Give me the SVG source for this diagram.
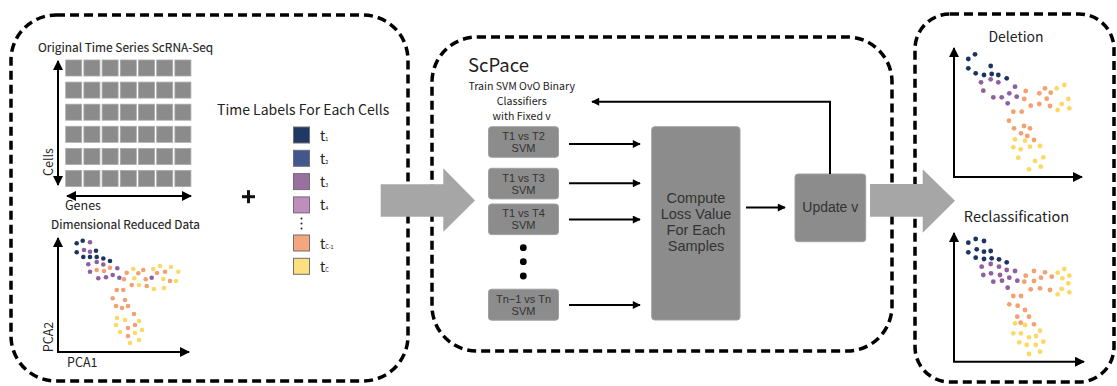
<svg xmlns="http://www.w3.org/2000/svg" width="1117" height="386" viewBox="0 0 1117 386">
  <defs>
    <style>
      .panel{fill:none;stroke:#000;stroke-width:3.5;stroke-dasharray:9 5}
      .lbl{font-family:"Noto Sans CJK SC","Source Sans Pro","Open Sans",sans-serif;fill:#222;font-weight:400}
      .semi{stroke:#222;stroke-width:0.12}
      .box{fill:#8c8c8c;stroke:#a0a0a0;stroke-width:1}
      .bt{font-family:"Liberation Sans",Arial,sans-serif;fill:#333;text-anchor:middle}
      .cell{fill:#8b8b8b;stroke:#a9a9a9;stroke-width:0.8}
      .ax{fill:none;stroke:#000;stroke-width:2}
      .fl{fill:none;stroke:#000;stroke-width:2}
      .big{fill:#a6a6a6}
      .n{fill:#1d3461}.p{fill:#8f5f9f}.o{fill:#f4a06f}.y{fill:#fcd867}
      .leg{stroke:#6f6f6f;stroke-width:1}
    </style>
    <marker id="ah" viewBox="0 0 10 10" refX="9" refY="5" markerWidth="5" markerHeight="5" orient="auto-start-reverse">
      <path d="M0,0 L10,5 L0,10 z" fill="#000"/>
    </marker>
    <marker id="fh" viewBox="0 0 10 10" refX="9" refY="5" markerWidth="4.5" markerHeight="4" orient="auto-start-reverse">
      <path d="M0,0 L10,5 L0,10 z" fill="#000"/>
    </marker>
  </defs>

  <rect width="1117" height="386" fill="#fff"/>

  <!-- dashed panels -->
  <rect class="panel" x="11" y="15" width="397" height="366" rx="45"/>
  <rect class="panel" x="432" y="37" width="460" height="314" rx="45"/>
  <rect class="panel" x="915" y="14" width="199" height="368" rx="35"/>

  <!-- input panel -->
  <g id="expression-matrix">
    <text class="lbl semi" x="38" y="52" font-size="11.9">Original Time Series ScRNA-Seq</text>
    <g>
      <rect class="cell" x="65.7" y="60" width="16" height="16"/><rect class="cell" x="83.9" y="60" width="16" height="16"/><rect class="cell" x="102.1" y="60" width="16" height="16"/><rect class="cell" x="120.3" y="60" width="16" height="16"/><rect class="cell" x="138.5" y="60" width="16" height="16"/><rect class="cell" x="156.7" y="60" width="16" height="16"/><rect class="cell" x="174.9" y="60" width="16" height="16"/>
      <rect class="cell" x="65.7" y="82.1" width="16" height="16"/><rect class="cell" x="83.9" y="82.1" width="16" height="16"/><rect class="cell" x="102.1" y="82.1" width="16" height="16"/><rect class="cell" x="120.3" y="82.1" width="16" height="16"/><rect class="cell" x="138.5" y="82.1" width="16" height="16"/><rect class="cell" x="156.7" y="82.1" width="16" height="16"/><rect class="cell" x="174.9" y="82.1" width="16" height="16"/>
      <rect class="cell" x="65.7" y="104.2" width="16" height="16"/><rect class="cell" x="83.9" y="104.2" width="16" height="16"/><rect class="cell" x="102.1" y="104.2" width="16" height="16"/><rect class="cell" x="120.3" y="104.2" width="16" height="16"/><rect class="cell" x="138.5" y="104.2" width="16" height="16"/><rect class="cell" x="156.7" y="104.2" width="16" height="16"/><rect class="cell" x="174.9" y="104.2" width="16" height="16"/>
      <rect class="cell" x="65.7" y="126.3" width="16" height="16"/><rect class="cell" x="83.9" y="126.3" width="16" height="16"/><rect class="cell" x="102.1" y="126.3" width="16" height="16"/><rect class="cell" x="120.3" y="126.3" width="16" height="16"/><rect class="cell" x="138.5" y="126.3" width="16" height="16"/><rect class="cell" x="156.7" y="126.3" width="16" height="16"/><rect class="cell" x="174.9" y="126.3" width="16" height="16"/>
      <rect class="cell" x="65.7" y="148.4" width="16" height="16"/><rect class="cell" x="83.9" y="148.4" width="16" height="16"/><rect class="cell" x="102.1" y="148.4" width="16" height="16"/><rect class="cell" x="120.3" y="148.4" width="16" height="16"/><rect class="cell" x="138.5" y="148.4" width="16" height="16"/><rect class="cell" x="156.7" y="148.4" width="16" height="16"/><rect class="cell" x="174.9" y="148.4" width="16" height="16"/>
      <rect class="cell" x="65.7" y="170.5" width="16" height="16"/><rect class="cell" x="83.9" y="170.5" width="16" height="16"/><rect class="cell" x="102.1" y="170.5" width="16" height="16"/><rect class="cell" x="120.3" y="170.5" width="16" height="16"/><rect class="cell" x="138.5" y="170.5" width="16" height="16"/><rect class="cell" x="156.7" y="170.5" width="16" height="16"/><rect class="cell" x="174.9" y="170.5" width="16" height="16"/>
    </g>
    <line class="ax" x1="58" y1="61" x2="58" y2="185" marker-start="url(#ah)" marker-end="url(#ah)"/>
    <line class="ax" x1="67" y1="196" x2="191" y2="196" marker-start="url(#ah)" marker-end="url(#ah)"/>
    <text class="lbl" font-size="12.5" transform="translate(53,162) rotate(-90)" text-anchor="middle">Cells</text>
    <text class="lbl" x="65" y="210" font-size="12.5">Genes</text>
  </g>

  <g id="reduced-data">
    <text class="lbl semi" x="51" y="229" font-size="11.9">Dimensional Reduced Data</text>
    <path class="ax" d="M58,238 V352 H189" marker-start="url(#ah)" marker-end="url(#ah)"/>
    <text class="lbl" font-size="12.5" transform="translate(53,337) rotate(-90)" text-anchor="middle">PCA2</text>
    <text class="lbl" x="67" y="367" font-size="12.5">PCA1</text>
    <g>
      <circle class="n" cx="76.7" cy="243.3" r="2.3"/><circle class="n" cx="82.7" cy="240.7" r="2.3"/><circle class="n" cx="76.7" cy="252.3" r="2.3"/><circle class="n" cx="96" cy="250.7" r="2.3"/><circle class="n" cx="83.3" cy="257" r="2.3"/><circle class="n" cx="90" cy="257" r="2.3"/><circle class="n" cx="96.7" cy="257" r="2.3"/><circle class="n" cx="103.3" cy="258.5" r="2.3"/><circle class="n" cx="110" cy="261" r="2.3"/>
      <circle class="p" cx="90" cy="242.3" r="2.3"/><circle class="p" cx="84" cy="250" r="2.3"/><circle class="p" cx="90" cy="251.7" r="2.3"/><circle class="p" cx="88.3" cy="264.3" r="2.3"/><circle class="p" cx="96.7" cy="262" r="2.3"/><circle class="p" cx="103.3" cy="264.5" r="2.3"/><circle class="p" cx="90" cy="271.7" r="2.3"/><circle class="p" cx="98.3" cy="278.3" r="2.3"/><circle class="p" cx="106" cy="277.3" r="2.3"/><circle class="p" cx="112.7" cy="275" r="2.3"/><circle class="p" cx="117.3" cy="268.3" r="2.3"/><circle class="p" cx="119.3" cy="277.7" r="2.3"/><circle class="p" cx="151.7" cy="277.7" r="2.3"/>
      <circle class="o" cx="96.7" cy="270" r="2.3"/><circle class="o" cx="104" cy="271" r="2.3"/><circle class="o" cx="110" cy="267.7" r="2.3"/><circle class="o" cx="126.7" cy="272.7" r="2.3"/><circle class="o" cx="124" cy="279.3" r="2.3"/><circle class="o" cx="131.7" cy="285" r="2.3"/><circle class="o" cx="138.3" cy="273.3" r="2.3"/><circle class="o" cx="143.3" cy="270" r="2.3"/><circle class="o" cx="145.7" cy="279.3" r="2.3"/><circle class="o" cx="146.7" cy="286" r="2.3"/><circle class="o" cx="165" cy="271.7" r="2.3"/><circle class="o" cx="170" cy="281" r="2.3"/><circle class="o" cx="157" cy="273" r="2.3"/>
      <circle class="o" cx="116.7" cy="290" r="2.3"/><circle class="o" cx="123.3" cy="290" r="2.3"/><circle class="o" cx="112.7" cy="298.3" r="2.3"/><circle class="o" cx="125" cy="300" r="2.3"/><circle class="o" cx="116" cy="306" r="2.3"/><circle class="o" cx="122" cy="308" r="2.3"/><circle class="o" cx="128" cy="306" r="2.3"/><circle class="o" cx="134" cy="314" r="2.3"/><circle class="o" cx="128" cy="328" r="2.3"/><circle class="o" cx="135" cy="325" r="2.3"/><circle class="o" cx="128" cy="336" r="2.3"/>
      <circle class="y" cx="133.3" cy="269" r="2.3"/><circle class="y" cx="153.3" cy="269" r="2.3"/><circle class="y" cx="160" cy="266" r="2.3"/><circle class="y" cx="171" cy="267" r="2.3"/><circle class="y" cx="178.3" cy="271.7" r="2.3"/><circle class="y" cx="163.3" cy="279" r="2.3"/><circle class="y" cx="154" cy="289" r="2.3"/><circle class="y" cx="164" cy="288" r="2.3"/><circle class="y" cx="176" cy="281" r="2.3"/><circle class="y" cx="134.3" cy="278.3" r="2.3"/><circle class="y" cx="139" cy="285" r="2.3"/>
      <circle class="y" cx="117" cy="318" r="2.3"/><circle class="y" cx="116" cy="325" r="2.3"/><circle class="y" cx="125" cy="320" r="2.3"/><circle class="y" cx="139" cy="321" r="2.3"/><circle class="y" cx="120" cy="332" r="2.3"/><circle class="y" cx="135" cy="333" r="2.3"/><circle class="y" cx="142" cy="330" r="2.3"/><circle class="y" cx="130" cy="343" r="2.3"/><circle class="y" cx="139" cy="340" r="2.3"/>
    </g>
  </g>

  <g id="plus">
    <rect x="242" y="195.2" width="13" height="3" fill="#111"/>
    <rect x="247" y="190.2" width="3" height="13" fill="#111"/>
  </g>

  <g id="time-labels">
    <text class="lbl" x="217" y="115" font-size="14">Time Labels For Each Cells</text>
    <rect class="leg" x="293.5" y="127" width="16" height="16" fill="#1f3864"/>
    <rect class="leg" x="293.5" y="150.3" width="16" height="16" fill="#41578e"/>
    <rect class="leg" x="293.5" y="173.6" width="16" height="16" fill="#9a70a1"/>
    <rect class="leg" x="293.5" y="196.9" width="16" height="16" fill="#c08ebd"/>
    <circle cx="301.5" cy="218.5" r="1" fill="#222"/><circle cx="301.5" cy="223.5" r="1" fill="#222"/><circle cx="301.5" cy="228.5" r="1" fill="#222"/>
    <rect class="leg" x="293.5" y="235" width="16" height="16" fill="#f4a77d"/>
    <rect class="leg" x="293.5" y="258.3" width="16" height="16" fill="#fcdf80"/>
    <text class="lbl" x="320" y="140.5" font-size="14">t<tspan font-size="5.5">1</tspan></text>
    <text class="lbl" x="320" y="163.8" font-size="14">t<tspan font-size="5.5">2</tspan></text>
    <text class="lbl" x="320" y="187.1" font-size="14">t<tspan font-size="5.5">3</tspan></text>
    <text class="lbl" x="320" y="210.4" font-size="14">t<tspan font-size="5.5">4</tspan></text>
    <text class="lbl" x="320" y="248.5" font-size="14">t<tspan font-size="5.5">C-1</tspan></text>
    <text class="lbl" x="320" y="271.8" font-size="14">t<tspan font-size="5.5">C</tspan></text>
  </g>

  <!-- ScPace panel -->
  <g id="scpace-title">
    <text class="lbl" x="468" y="71.5" font-size="18.5">ScPace</text>
    <text class="lbl" x="521.7" y="90" font-size="10.6" text-anchor="middle">Train SVM OvO Binary</text>
    <text class="lbl" x="521.7" y="105" font-size="10.6" text-anchor="middle">Classifiers</text>
    <text class="lbl" x="521.7" y="120" font-size="10.6" text-anchor="middle">with Fixed v</text>
  </g>

  <g id="svm-1-2">
    <rect class="box" x="488.5" y="126.7" width="70" height="30.6" rx="3"/>
    <text class="bt" x="523.5" y="140" font-size="11">T1 vs T2</text>
    <text class="bt" x="523.5" y="152" font-size="11">SVM</text>
  </g>
  <g id="svm-1-3">
    <rect class="box" x="488.5" y="168.3" width="70" height="30.6" rx="3"/>
    <text class="bt" x="523.5" y="181.6" font-size="11">T1 vs T3</text>
    <text class="bt" x="523.5" y="193.6" font-size="11">SVM</text>
  </g>
  <g id="svm-1-4">
    <rect class="box" x="488.5" y="204" width="70" height="30.6" rx="3"/>
    <text class="bt" x="523.5" y="217.3" font-size="11">T1 vs T4</text>
    <text class="bt" x="523.5" y="229.3" font-size="11">SVM</text>
  </g>
  <g id="svm-ellipsis">
    <circle cx="523.3" cy="247.7" r="3.4" fill="#000"/>
    <circle cx="523.3" cy="261.7" r="3.4" fill="#000"/>
    <circle cx="523.3" cy="276" r="3.4" fill="#000"/>
  </g>
  <g id="svm-last">
    <rect class="box" x="488.5" y="289.2" width="70" height="31" rx="3"/>
    <text class="bt" x="523.5" y="302.6" font-size="11">Tn−1 vs Tn</text>
    <text class="bt" x="523.5" y="314.6" font-size="11">SVM</text>
  </g>

  <g id="compute-loss">
    <rect class="box" x="651.7" y="126.7" width="88.3" height="193.3" rx="3"/>
    <text class="bt" x="696" y="203.3" font-size="14.5">Compute</text>
    <text class="bt" x="696" y="219.1" font-size="14.5">Loss Value</text>
    <text class="bt" x="696" y="234.9" font-size="14.5">For Each</text>
    <text class="bt" x="696" y="250.7" font-size="14.5">Samples</text>
  </g>

  <g id="update-v">
    <rect class="box" x="795" y="174" width="70.7" height="67.7" rx="3"/>
    <text class="bt" x="830.3" y="212" font-size="14">Update v</text>
  </g>

  <g id="connectors">
    <line class="fl" x1="569" y1="144" x2="640" y2="144" marker-end="url(#fh)"/>
    <line class="fl" x1="569" y1="183.3" x2="640" y2="183.3" marker-end="url(#fh)"/>
    <line class="fl" x1="569" y1="219.5" x2="640" y2="219.5" marker-end="url(#fh)"/>
    <line class="fl" x1="569" y1="305" x2="640" y2="305" marker-end="url(#fh)"/>
    <line class="fl" x1="746" y1="207.5" x2="785" y2="207.5" marker-end="url(#fh)"/>
    <path class="fl" d="M830,174 V101.7 H592" marker-end="url(#fh)"/>
  </g>

  <!-- flow between panels -->
  <g id="flow-arrow-1">
    <path class="big" d="M380.7,184.3 H443.3 V168.3 L475,200.5 L443.3,231.7 V216.7 H380.7 z"/>
  </g>
  <g id="flow-arrow-2">
    <path class="big" d="M870,184 H922.7 V169.3 L955,200.7 L922.7,232.7 V216.7 H870 z"/>
  </g>

  <!-- results panel -->
  <g id="deletion">
    <text class="lbl" x="1016" y="41.7" font-size="14" font-weight="700" text-anchor="middle">Deletion</text>
    <path class="ax" d="M954,48 V177 H1082" marker-start="url(#ah)" marker-end="url(#ah)"/>
    <g>
      <circle class="n" cx="968.3" cy="59" r="2.4"/><circle class="n" cx="975" cy="54.3" r="2.4"/><circle class="n" cx="968.3" cy="68.3" r="2.4"/><circle class="n" cx="975.7" cy="73.3" r="2.4"/><circle class="n" cx="984" cy="75" r="2.4"/><circle class="n" cx="990.7" cy="66" r="2.4"/><circle class="n" cx="991.7" cy="74" r="2.4"/><circle class="n" cx="998.3" cy="75" r="2.4"/><circle class="n" cx="1006.7" cy="78.3" r="2.4"/>
      <circle class="p" cx="981" cy="82.3" r="2.4"/><circle class="p" cx="990.7" cy="79.3" r="2.4"/><circle class="p" cx="998.3" cy="82.3" r="2.4"/><circle class="p" cx="983.3" cy="90.7" r="2.4"/><circle class="p" cx="993.3" cy="97.3" r="2.4"/><circle class="p" cx="1001.7" cy="97.3" r="2.4"/><circle class="p" cx="1009.3" cy="93.3" r="2.4"/><circle class="p" cx="1015" cy="86.7" r="2.4"/><circle class="p" cx="1016.7" cy="96.7" r="2.4"/><circle class="p" cx="1007.7" cy="103.3" r="2.4"/>
      <circle class="o" cx="1025.7" cy="91" r="2.4"/><circle class="o" cx="1024.3" cy="99" r="2.4"/><circle class="o" cx="1030.7" cy="105.7" r="2.4"/><circle class="o" cx="1039.3" cy="104" r="2.4"/><circle class="o" cx="1045" cy="88.3" r="2.4"/><circle class="o" cx="1039.3" cy="93.3" r="2.4"/><circle class="o" cx="1046.7" cy="98.7" r="2.4"/><circle class="o" cx="1050.7" cy="92.7" r="2.4"/><circle class="o" cx="1050" cy="106" r="2.4"/><circle class="o" cx="1013.3" cy="111.7" r="2.4"/><circle class="o" cx="1021.7" cy="111.7" r="2.4"/><circle class="o" cx="1009" cy="120.7" r="2.4"/><circle class="o" cx="1014" cy="128.3" r="2.4"/><circle class="o" cx="1024" cy="126" r="2.4"/><circle class="o" cx="1030" cy="128.3" r="2.4"/><circle class="o" cx="1021" cy="133.3" r="2.4"/><circle class="o" cx="1027.3" cy="136" r="2.4"/><circle class="o" cx="1034" cy="140" r="2.4"/>
      <circle class="y" cx="1056.7" cy="88.3" r="2.4"/><circle class="y" cx="1064.3" cy="85" r="2.4"/><circle class="y" cx="1068.3" cy="99" r="2.4"/><circle class="y" cx="1061.7" cy="104" r="2.4"/><circle class="y" cx="1069.3" cy="108.3" r="2.4"/><circle class="y" cx="1057.7" cy="110" r="2.4"/><circle class="y" cx="1015" cy="139.3" r="2.4"/><circle class="y" cx="1025" cy="140.7" r="2.4"/><circle class="y" cx="1013.3" cy="147.3" r="2.4"/><circle class="y" cx="1020.7" cy="149.3" r="2.4"/><circle class="y" cx="1030" cy="146.7" r="2.4"/><circle class="y" cx="1040" cy="146" r="2.4"/><circle class="y" cx="1018.3" cy="157.7" r="2.4"/><circle class="y" cx="1035" cy="161" r="2.4"/><circle class="y" cx="1043.3" cy="157.3" r="2.4"/><circle class="y" cx="1029" cy="169.3" r="2.4"/><circle class="y" cx="1040.7" cy="166.7" r="2.4"/>
    </g>
  </g>

  <g id="reclassification">
    <text class="lbl" x="1016.5" y="221.7" font-size="14.5" font-weight="700" text-anchor="middle">Reclassification</text>
    <path class="ax" d="M954,233 V361.7 H1084" marker-start="url(#ah)" marker-end="url(#ah)"/>
    <g>
      <circle class="n" cx="968.3" cy="242.7" r="2.4"/><circle class="n" cx="975.7" cy="239" r="2.4"/><circle class="n" cx="984" cy="241" r="2.4"/><circle class="n" cx="968.3" cy="252.3" r="2.4"/><circle class="n" cx="976.7" cy="249.3" r="2.4"/><circle class="n" cx="984" cy="251.7" r="2.4"/><circle class="n" cx="990.7" cy="251" r="2.4"/><circle class="n" cx="975.7" cy="257.7" r="2.4"/><circle class="n" cx="984" cy="259" r="2.4"/><circle class="n" cx="991.7" cy="258.3" r="2.4"/><circle class="n" cx="999" cy="259.3" r="2.4"/><circle class="n" cx="1006.7" cy="262.3" r="2.4"/>
      <circle class="p" cx="981.7" cy="266.7" r="2.4"/><circle class="p" cx="990.7" cy="264" r="2.4"/><circle class="p" cx="999" cy="266.7" r="2.4"/><circle class="p" cx="1006.7" cy="270" r="2.4"/><circle class="p" cx="1015" cy="271" r="2.4"/><circle class="p" cx="983.3" cy="275" r="2.4"/><circle class="p" cx="991" cy="273.3" r="2.4"/><circle class="p" cx="1000" cy="275" r="2.4"/><circle class="p" cx="1009.3" cy="277.7" r="2.4"/><circle class="p" cx="1017.3" cy="280.7" r="2.4"/><circle class="p" cx="993.3" cy="281.7" r="2.4"/><circle class="p" cx="1002" cy="280.7" r="2.4"/><circle class="p" cx="1007.7" cy="287.7" r="2.4"/>
      <circle class="o" cx="1025.7" cy="275.7" r="2.4"/><circle class="o" cx="1034" cy="271" r="2.4"/><circle class="o" cx="1045" cy="272.3" r="2.4"/><circle class="o" cx="1024.3" cy="281.7" r="2.4"/><circle class="o" cx="1034" cy="281" r="2.4"/><circle class="o" cx="1041" cy="277.7" r="2.4"/><circle class="o" cx="1051.7" cy="276.7" r="2.4"/><circle class="o" cx="1030.7" cy="289.3" r="2.4"/><circle class="o" cx="1040" cy="288.3" r="2.4"/><circle class="o" cx="1050" cy="290" r="2.4"/><circle class="o" cx="1013.3" cy="296" r="2.4"/><circle class="o" cx="1021" cy="296" r="2.4"/><circle class="o" cx="1009.3" cy="304.3" r="2.4"/><circle class="o" cx="1017.7" cy="305.7" r="2.4"/><circle class="o" cx="1025" cy="310" r="2.4"/><circle class="o" cx="1017.3" cy="316.7" r="2.4"/><circle class="o" cx="1029" cy="316.7" r="2.4"/><circle class="o" cx="1020.7" cy="322.7" r="2.4"/><circle class="o" cx="1034" cy="324.3" r="2.4"/>
      <circle class="y" cx="1057.7" cy="272.7" r="2.4"/><circle class="y" cx="1064.3" cy="269" r="2.4"/><circle class="y" cx="1069.3" cy="275.7" r="2.4"/><circle class="y" cx="1062.3" cy="278.3" r="2.4"/><circle class="y" cx="1068.3" cy="283.3" r="2.4"/><circle class="y" cx="1061.7" cy="289" r="2.4"/><circle class="y" cx="1069.3" cy="292.3" r="2.4"/><circle class="y" cx="1057.7" cy="294.3" r="2.4"/><circle class="y" cx="1015" cy="323.3" r="2.4"/><circle class="y" cx="1025" cy="325" r="2.4"/><circle class="y" cx="1013.3" cy="333.3" r="2.4"/><circle class="y" cx="1021" cy="333.3" r="2.4"/><circle class="y" cx="1029" cy="337.3" r="2.4"/><circle class="y" cx="1036" cy="336" r="2.4"/><circle class="y" cx="1040" cy="330.7" r="2.4"/><circle class="y" cx="1019.3" cy="342.3" r="2.4"/><circle class="y" cx="1026.7" cy="345" r="2.4"/><circle class="y" cx="1035.7" cy="345" r="2.4"/><circle class="y" cx="1043.3" cy="341.7" r="2.4"/><circle class="y" cx="1029" cy="354" r="2.4"/><circle class="y" cx="1040" cy="351.7" r="2.4"/>
    </g>
  </g>
</svg>
